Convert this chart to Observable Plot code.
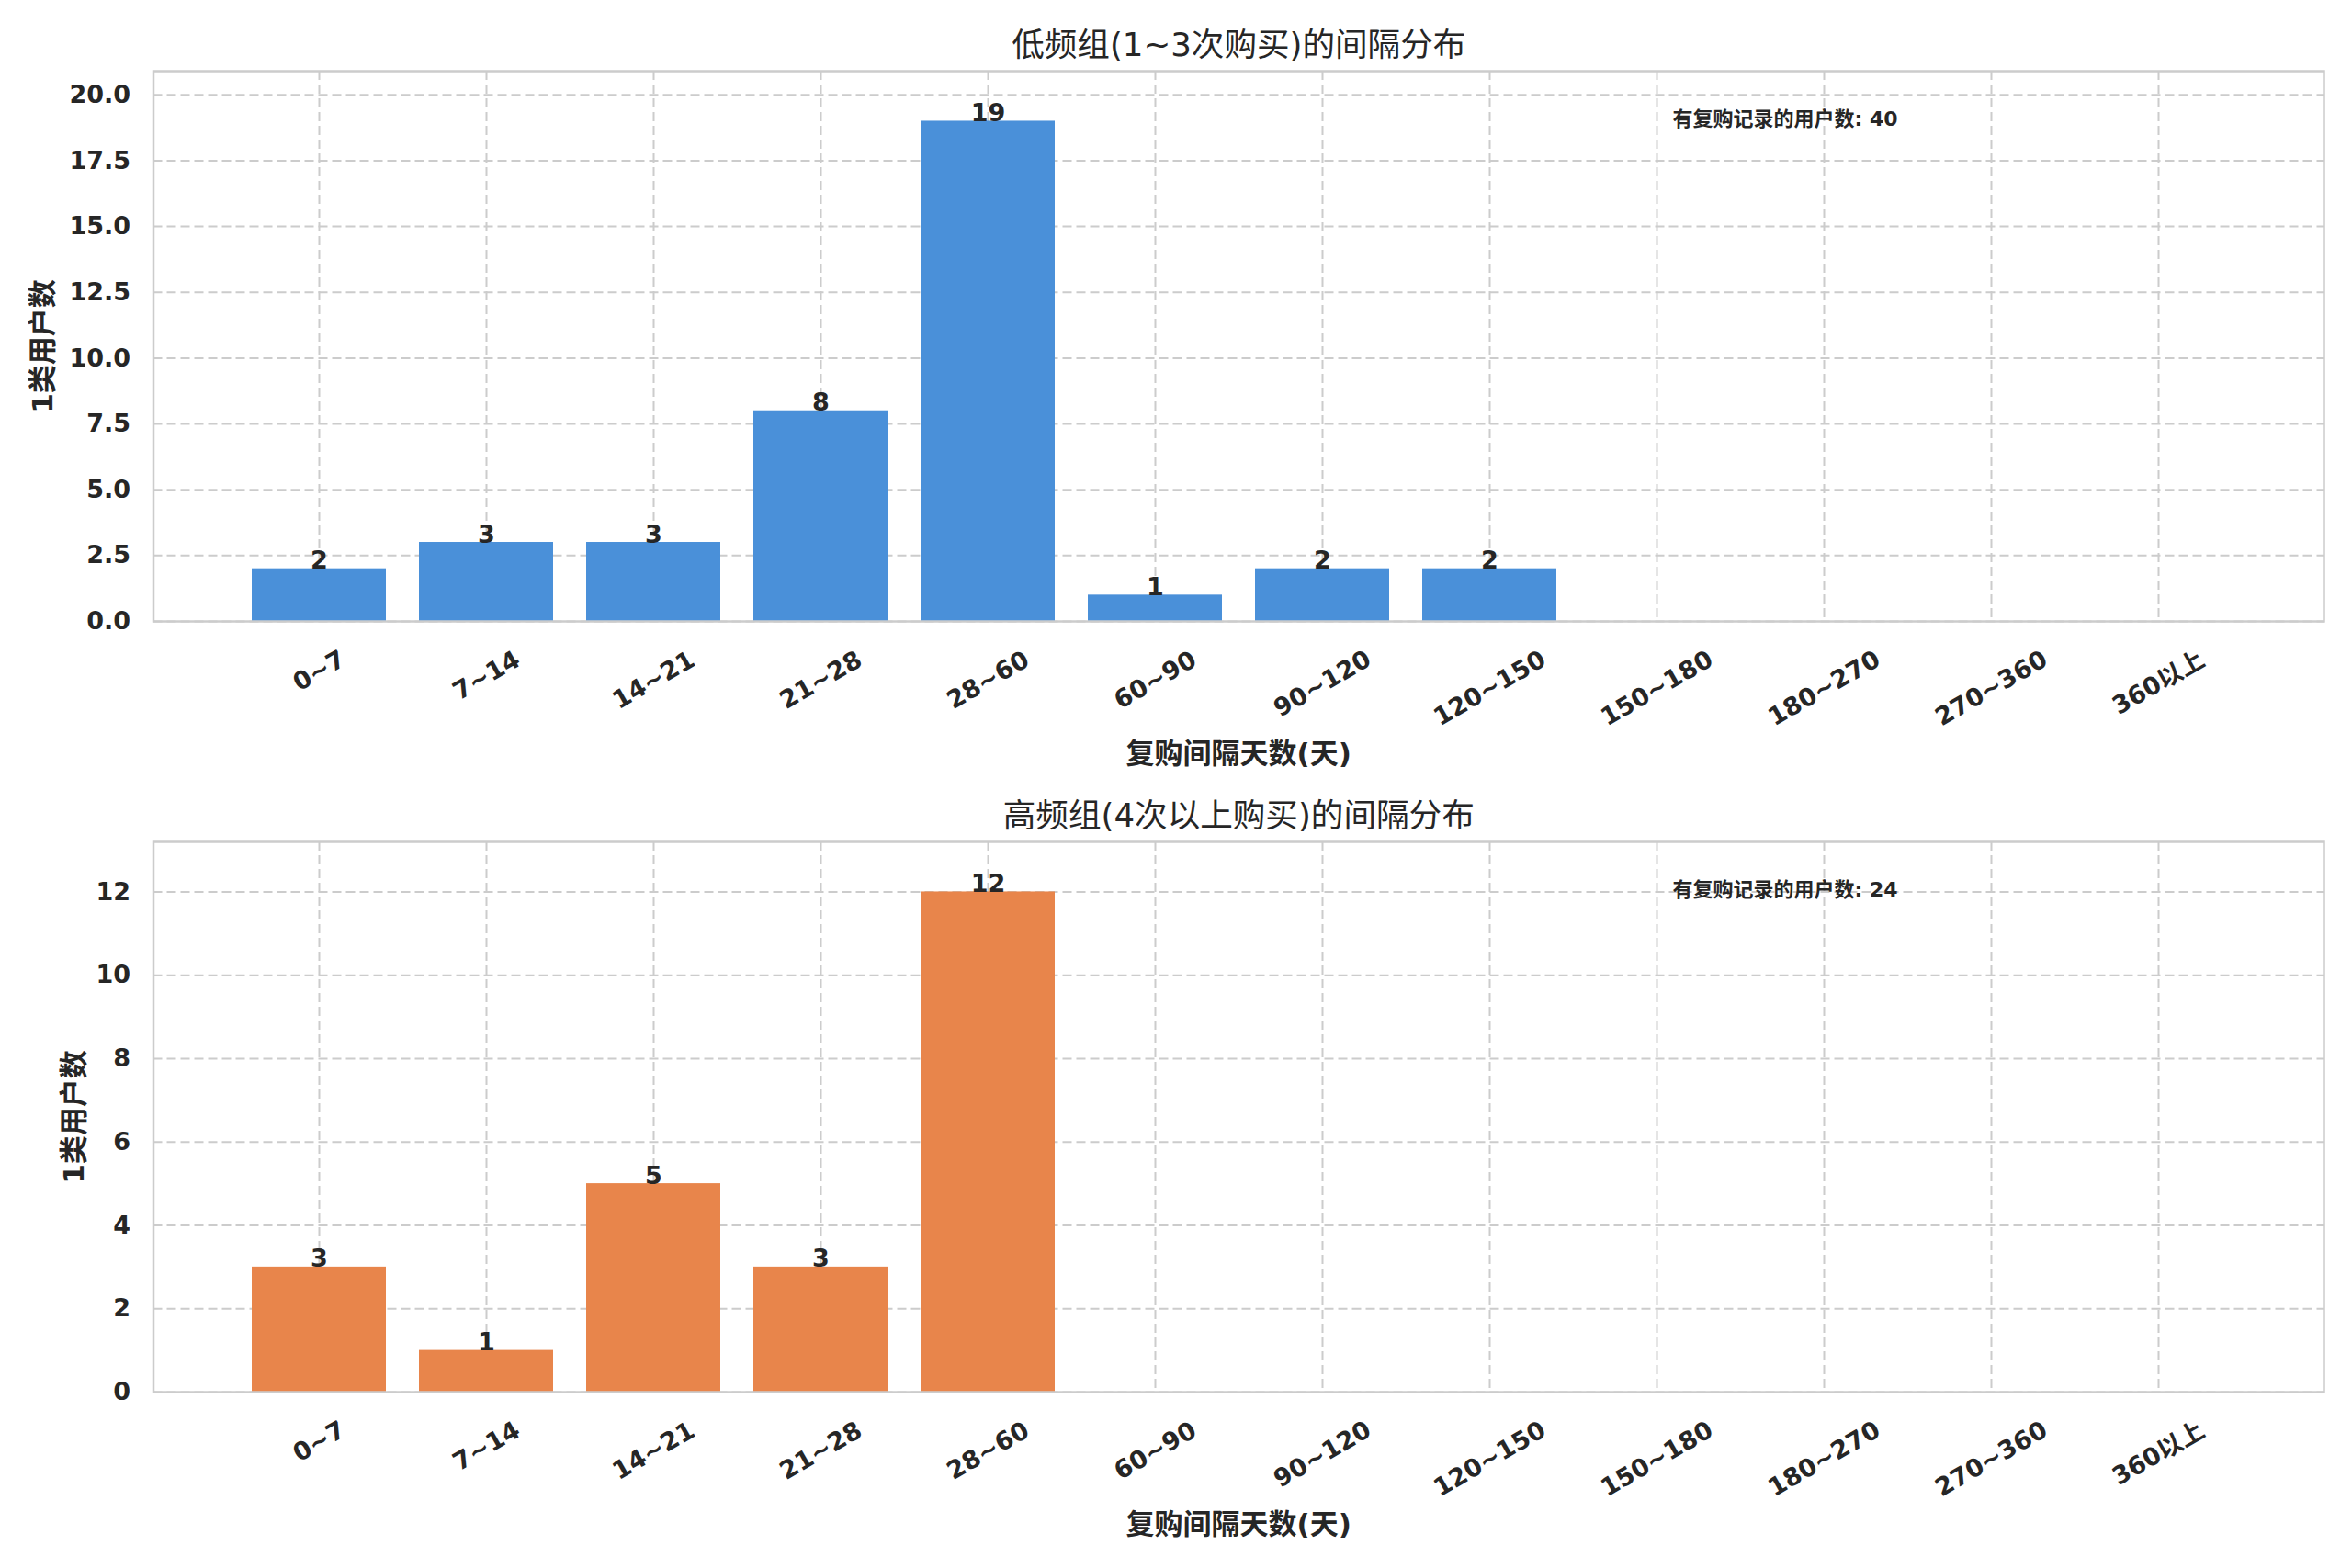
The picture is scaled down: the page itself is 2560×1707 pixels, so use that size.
<!DOCTYPE html>
<html>
<head>
<meta charset="utf-8">
<script src="https://cdn.jsdelivr.net/npm/d3@7"></script>
<script src="https://cdn.jsdelivr.net/npm/@observablehq/plot@0.6"></script>
<style>
  html, body { margin: 0; padding: 0; background: #ffffff; }
  #chart svg { display: block; }
</style>
</head>
<body>
<div id="chart"></div>
<script>
// ---- data ----
const categories = ["0~7", "7~14", "14~21", "21~28", "28~60", "60~90", "90~120", "120~150", "150~180", "180~270", "270~360", "360以上"];
const lowCounts = [2, 3, 3, 8, 19, 1, 2, 2, 0, 0, 0, 0];
const highCounts = [3, 1, 5, 3, 12, 0, 0, 0, 0, 0, 0, 0];
const lowTicks = [0, 2.5, 5, 7.5, 10, 12.5, 15, 17.5, 20];
const highTicks = [0, 2, 4, 6, 8, 10, 12];
const lowTitle = "低频组(1~3次购买)的间隔分布";
const highTitle = "高频组(4次以上购买)的间隔分布";
const xLabel = "复购间隔天数(天)";
const yLabel = "1类用户数";
const annotLabel = "有复购记录的用户数";

const FONT = "'DejaVu Sans', 'Noto Sans CJK SC', sans-serif";
const INK = "#262626";
const TICK_FS = 27;

// approximate rendered width of a tick label (bold DejaVu Sans), used only to
// align rotated labels by their top edge the way the reference does
function labelWidth(s) {
  let w = 0;
  for (const ch of s) w += /[0-9]/.test(ch) ? 0.696 : ch === "~" ? 0.838 : 1.0;
  return w * TICK_FS;
}
const labelGroups = d3.groups(categories, c => Math.round(37.7 + labelWidth(c) / 4 + 1.5));

function makeChart({counts, color, title, ticks, tickFormat, yMax, height, marginTop, marginBottom, yLabelDx}) {
  const data = categories.map((c, i) => ({cat: c, count: counts[i]}));
  const total = d3.sum(counts);
  const gridStyle = {stroke: "#cccccc", strokeOpacity: 1, strokeWidth: 2, strokeDasharray: "10,5"};
  return Plot.plot({
    width: 2560,
    height,
    marginLeft: 166.5,
    marginRight: 31,
    marginTop,
    marginBottom,
    style: {fontFamily: FONT, color: INK, background: "#ffffff", overflow: "visible"},
    x: {domain: categories, paddingInner: 0.2, paddingOuter: 0.59, align: 0.5},
    y: {domain: [0, yMax]},
    marks: [
      Plot.gridY(ticks, gridStyle),
      Plot.gridX(gridStyle),
      Plot.barY(data, {x: "cat", y: "count", fill: color}),
      Plot.text(data.filter(d => d.count > 0), {
        x: "cat", y: "count", text: d => String(d.count),
        lineAnchor: "bottom", fontSize: TICK_FS, fontWeight: "bold", fill: INK
      }),
      Plot.axisY(ticks, {tickSize: 0, tickPadding: 25, tickFormat, fontSize: TICK_FS, fontWeight: "bold", fill: INK, label: null}),
      ...labelGroups.map(([pad, cats]) => Plot.axisX(cats, {
        tickSize: 0, tickPadding: pad, tickRotate: -30, textAnchor: "middle", lineAnchor: "middle",
        fontSize: TICK_FS, fontWeight: "bold", fill: INK, label: null
      })),
      Plot.frame({stroke: "#cccccc", strokeWidth: 2.5}),
      Plot.text([title], {frameAnchor: "top", dy: -28, textAnchor: "middle", lineAnchor: "middle", fontSize: 35.6, fill: INK}),
      Plot.text([xLabel], {frameAnchor: "bottom", dy: 145, textAnchor: "middle", lineAnchor: "middle", fontSize: 31, fontWeight: "bold", fill: INK}),
      Plot.text([yLabel], {frameAnchor: "left", dx: yLabelDx, rotate: -90, textAnchor: "middle", lineAnchor: "middle", fontSize: 31, fontWeight: "bold", fill: INK}),
      Plot.text([`${annotLabel}: ${total}`], {frameAnchor: "top-left", dx: 1653.5, dy: 52, textAnchor: "start",
        lineAnchor: "middle", fontSize: 22, fontWeight: "bold", fill: INK})
    ]
  });
}

const chart = document.getElementById("chart");
chart.appendChild(makeChart({
  counts: lowCounts, color: "#4a90d9", title: lowTitle, ticks: lowTicks,
  tickFormat: d3.format(".1f"), yMax: d3.max(lowCounts) * 1.1,
  height: 853, marginTop: 77, marginBottom: 177, yLabelDx: -119.5
}));
chart.appendChild(makeChart({
  counts: highCounts, color: "#e8854b", title: highTitle, ticks: highTicks,
  tickFormat: d3.format("d"), yMax: d3.max(highCounts) * 1.1,
  height: 854, marginTop: 63, marginBottom: 192, yLabelDx: -85.5
}));
</script>
</body>
</html>
